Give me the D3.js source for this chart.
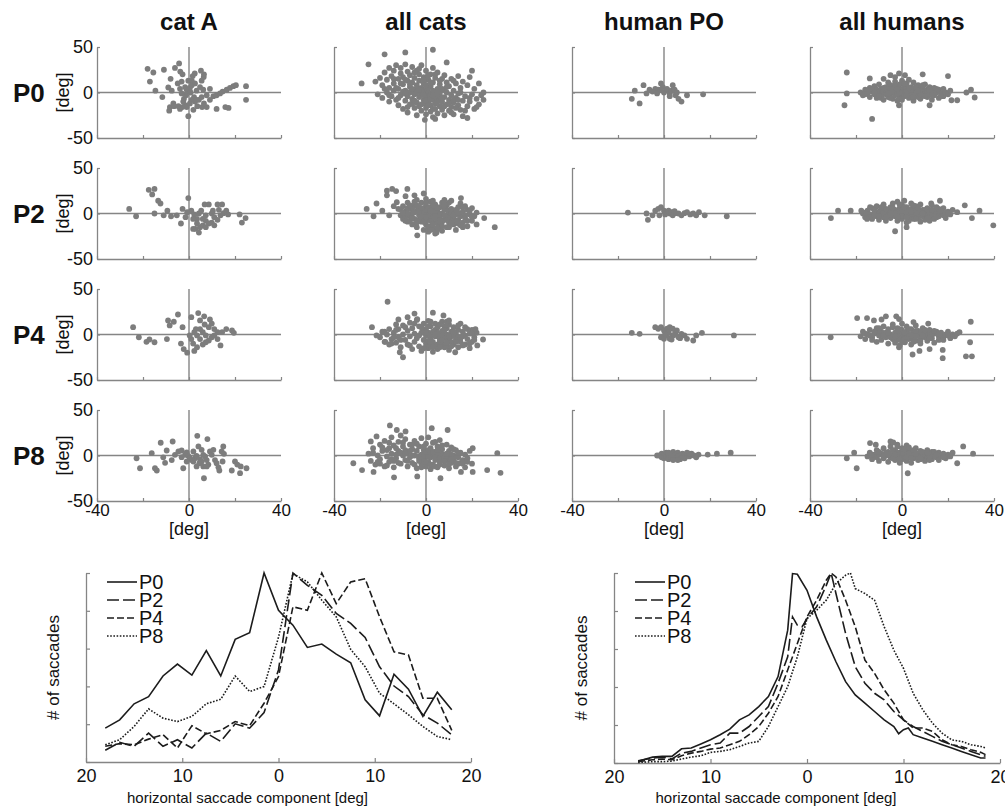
<!DOCTYPE html>
<html>
<head>
<meta charset="utf-8">
<script src="https://cdn.jsdelivr.net/npm/d3@7"></script>
<style>
  body { margin: 0; background: #fff; }
  svg { display: block; }
  text { font-family: "Liberation Sans", Arial, Helvetica, sans-serif; fill: #111; }
</style>
</head>
<body>
<svg id="fig" width="1005" height="809"></svg>
<script>
// ---------- labels ----------
const colTitles = ["cat A", "all cats", "human PO", "all humans"];
const rowLabels = ["P0", "P2", "P4", "P8"];
const scatterXTicks = [-40, -20, 0, 20, 40];
const scatterXLabels = [-40, 0, 40];
const scatterYTicks = [-50, 0, 50];
const lineXTicks = [-20, -10, 0, 10, 20];
const lineYTicks = [0, 0.2, 0.4, 0.6, 0.8, 1];
const seriesNames = ["P0", "P2", "P4", "P8"];

// ---------- scatter data [horizontal deg, vertical deg] ----------
const catA_P0 = [[-18,26],[-15.5,22],[-17,12],[-14.6,2],[-10.9,25],[-11.6,-5],[-9,5.5],[-8,15],[-7.5,2],[-6.1,27],[-4.3,32],[-3.8,23],[-2.8,20],[-3.2,12],[-4.9,10],[-3.9,4],[-6.8,-12],[-8.3,-16],[-8.6,-20],[-6.5,-15],[-4.6,-15],[-2.9,-16],[-1.7,-14],[-0.3,-26],[-2.2,-7],[-1.3,-3],[-1,3],[0.4,5],[1.2,13],[1.6,18],[-0.3,13],[0.7,0],[2.2,-5],[3.3,2],[4.8,6],[5.5,13],[6.4,17],[2.5,21],[6.5,20],[5.2,24],[4.3,-8],[3.6,-15],[5.7,-16],[7.7,-16],[6.5,-12],[9.1,4],[10.6,-4],[12,-3],[13.5,-1],[14.6,1],[16.4,3],[17.8,5],[19.3,7],[20.4,8],[24.8,7],[24.8,-8],[12,-18],[15.8,-16],[17.2,-17],[2.6,-10],[1.2,-8],[-2.5,-10],[-3.9,-18],[-1,-16],[1.9,-19],[0.4,-12],[3.3,-8],[1.2,8],[2.6,10],[-1.7,6],[-3.2,-1],[6.2,3],[7.7,-3],[9.1,-8],[5.5,-5]];

const allCats_P0 = [[-22,12],[-20,16],[-19,8],[-18,22],[-17,14],[-16,27],[-16,5],[-15,18],[-14,10],[-14,24],[-13,30],[-12,15],[-12,4],[-11,21],[-11,27],[-10,9],[-10,17],[-9,31],[-9,2],[-8,13],[-8,23],[-7,6],[-7,19],[-6,28],[-6,11],[-5,16],[-5,3],[-4,24],[-4,8],[-3,20],[-3,13],[-2,30],[-2,5],[-1,17],[-1,10],[0,24],[0,3],
  [1,14],[2,20],[2,7],[3,27],[3,11],[4,16],[5,4],[5,22],[6,9],[7,15],[8,19],[8,3],[9,11],[10,7],[11,15],[12,2],[13,10],[14,18],[15,5],[16,12],[18,8],[19,17],[21,4],[23,10],
  [-21,-2],[-19,-6],[-17,0],[-16,-10],[-15,-4],[-14,2],[-13,-8],[-12,-14],[-11,-3],[-10,-18],[-10,1],[-9,-9],[-8,-4],[-8,-22],[-7,-13],[-7,0],[-6,-7],[-5,-17],[-5,-2],[-4,-11],[-4,-25],[-3,-5],[-3,-15],[-2,-1],[-2,-20],[-1,-8],[-1,-12],[0,-3],[0,-17],[0,-24],[1,-6],[1,-10],[1,0],[2,-14],[2,-21],[2,-3],[3,-8],[3,-18],[3,-27],[4,-1],[4,-12],[5,-6],[5,-23],[6,-15],[6,-2],[7,-10],[7,-19],[8,-5],[8,-25],[9,-13],[9,0],[10,-8],[10,-20],[11,-3],[11,-16],[12,-11],[12,-24],[13,-6],[14,-14],[14,-1],[15,-19],[16,-9],[16,-26],[17,-4],[18,-15],[19,-10],[20,-2],[21,-18],[22,-7],[23,-13],[24,-3],[25,0],
  [-6,4],[-2,2],[1,5],[3,2],[4,-4],[6,1],[-9,-1],[12,-8],[15,0],[7,4],
  [-13,5],[-12,-6],[-11,10],[-9,14],[-8,-16],[-7,9],[-6,-12],[-5,22],[-5,-9],[-4,0],[-3,26],[-3,3],[-2,-13],[-1,14],[-1,-3],[0,8],[0,-9],[1,19],[1,-14],[2,11],[2,-7],[3,-3],[4,20],[4,-18],[5,0],[5,-10],[6,13],[7,-6],[8,-15],[9,6],[10,-12],[11,-22],[12,13],[13,-17],[14,-8],[-14,15],[-16,-3],[-18,4],[17,-20],[19,-6],
  [-18,42],[-9,44],[3,47],[9,33],[-25,31],[-28,10],[20,24],[-0.5,-30],[4,-29],[18,-28],[22,-16],[25,-8]];

const humanPO_P0 = [[-12.7,2],[-14,-7],[-10.6,-12],[-8.9,8],[-6.3,3],[-3.8,4],[-1.3,10],[-0.5,6],[1.3,3],[2.5,-1],[3.8,8],[5,-3],[6.3,-7],[7.6,-10],[10,-3],[17,-2],[-5,1],[-2.5,3],[0,0],[1.3,4],[-3,-1],[3.3,2],[4.6,3],[-7.6,-1],[-1.5,3],[5.6,0],[2.5,-4]];

const allHumans_P0 = [[-18,0],[-17,-3],[-16,3],[-15,-1],[-14,5],[-14,-5],[-13,1],[-12,-2],[-12,7],[-11,3],[-11,-6],[-10,0],[-10,9],[-9,-3],[-9,4],[-8,1],[-8,-8],[-7,6],[-7,-2],[-6,2],[-6,11],[-6,-5],[-5,-1],[-5,8],[-4,4],[-4,-7],[-3,0],[-3,12],[-3,-3],[-2,6],[-2,-9],[-2,2],[-1,-1],[-1,9],[-1,-5],[0,3],[0,-2],[0,13],[0,-8],[1,1],[1,7],[1,-4],[2,-1],[2,10],[2,4],[3,-6],[3,2],[3,14],[4,-2],[4,6],[5,0],[5,-9],[5,11],[6,3],[6,-4],[7,-1],[7,8],[8,1],[8,-7],[9,5],[9,-3],[10,0],[10,9],[11,-5],[11,3],[12,-1],[12,6],[13,-8],[13,2],[14,-3],[14,5],[15,0],[16,-6],[16,3],[17,-1],[18,-4],[18,4],[19,0],[20,-2],[21,2],[-15,2],[-9,-6],[-4,1],[-1,3],[1,-2],[3,-1],[4,1],[6,-1],[8,3],[0,0],[2,1],[-2,-1],[-7,3],[11,0],[-5,4],[7,-5],
  [-16,-2],[-13,4],[-10,-4],[-8,5],[-5,-6],[-3,8],[-1,0],[1,10],[2,-3],[4,3],[5,-5],[6,6],[8,-2],[9,8],[10,-4],[12,3],[13,-3],[15,4],[17,-4],[-12,0],[-6,-1],[3,5],[7,2],[-2,4],
  [-24,22],[-24,-1],[-25,-14],[-13,-29],[9,20],[20,18],[30,3],[31.6,-5.5],[24,-8.5],[21.5,-8.5],[28,0],[-14,15.5],[-5,19],[1.3,19],[-1.3,21],[12,-14],[-1.3,-14],[-8,15],[-3,17]];

const catA_P2 = [[-26,5],[-23,-3],[-17.5,26],[-15,27],[-16,21],[-13.4,14],[-12.4,11],[-9.4,3],[-15,0],[-11,-2],[-7.8,-3],[-5.3,-2],[-3.5,-11],[-2.8,5],[-1.5,-4],[-0.3,17],[1,3],[2.3,-1],[3.5,-6],[2.8,-17],[4.3,-21],[4.8,-15],[6,-13],[7.3,-8],[6.8,10],[8.6,10],[12.4,10],[14.4,10],[9.9,0],[11,-4],[12.4,-7],[13.7,-2],[15,0.4],[16.2,3],[17,-1],[22,-1],[23,-10],[24.6,-5],[8.6,-11],[9.9,-10],[6,-6],[4.3,0],[1.8,-6],[-0.8,1.5],[7.3,-2],[10.4,3],[13,4],[5.3,3],[3.5,-11],[1.8,-17],[7.3,-15],[11,-13]];

const allCats_P2 = [[-12,5],[-11,-2],[-10,8],[-10,-6],[-9,2],[-8,-9],[-8,12],[-7,-3],[-7,5],[-6,-12],[-6,0],[-5,9],[-5,-6],[-4,3],[-4,15],[-4,-15],[-3,-2],[-3,7],[-2,-9],[-2,12],[-2,1],[-1,-5],[-1,5],[-1,-18],[0,-1],[0,9],[0,-12],[0,16],[1,3],[1,-7],[1,-20],[2,-3],[2,7],[2,-14],[2,13],[3,0],[3,-10],[3,5],[4,-5],[4,-17],[4,10],[5,-1],[5,-8],[5,3],[6,-13],[6,7],[6,-4],[7,0],[7,-19],[7,12],[8,-7],[8,4],[9,-2],[9,-15],[9,9],[10,-10],[10,1],[11,-5],[11,14],[12,-12],[12,3],[13,-1],[13,-18],[14,7],[14,-7],[15,-3],[15,11],[16,-10],[16,2],[17,-5],[18,4],[18,-14],[19,-1],[20,6],[20,-8],[21,-3],[22,1],[-11,4],[-9,-4],[-6,6],[-3,-7],[-1,1],[1,-2],[3,-4],[4,2],[6,-1],[8,-2],[10,-4],[11,0],[-5,1],[0,4],[2,-8],[5,-11],[7,-9],[12,-6],[3,9],[-2,-4],[13,4],[9,4],[1,6],[-7,-8],[16,-15],[6,-17],[4,-22],[-4,9],[8,8],[14,-11],[-8,0],[10,12],[17,8],
  [-10,1],[-8,6],[-6,-5],[-5,13],[-4,-10],[-3,2],[-2,6],[-1,-9],[0,-4],[0,12],[1,-15],[2,3],[3,-12],[3,14],[4,-3],[5,6],[6,-9],[7,-14],[8,11],[9,-7],[10,-15],[11,5],[12,-2],[13,-9],[14,1],[15,-13],[16,7],[17,-2],[18,-8],[19,3],[-7,9],[-9,-8],[2,-18],[5,-16],[11,-11],[20,-4],
  [-25.8,5],[-22.8,-3],[-17,25],[-14.7,27],[-13,24.6],[-17,20],[-8.1,27],[-8.9,19],[-12.7,12.5],[-21.5,11],[-19,3],[15.2,17],[29.9,-15],[-3.8,-24],[4.6,-21],[25.3,-5],[-16,-2],[-14,8],[-5,20],[-1,22],[8,15],[22,-12]];

const humanPO_P2 = [[-15.7,1],[-7,-7],[-7.6,0],[-3.8,3],[-2.5,5],[-1.3,7],[0,3],[1.3,1.5],[2.5,0],[3.8,-2],[5,0.4],[6.3,0],[7.6,-2],[8.9,0.4],[11.4,-1],[14,-2],[15.2,1.5],[17.7,-2],[27.3,-3],[-5,-2],[-2,-2],[0.5,-1],[2,3],[3.3,1.5],[4.6,2.6],[10,1.5],[12.7,0]];

const allHumans_P2 = [[-17,0],[-16,-4],[-15,3],[-14,-1],[-13,6],[-13,-6],[-12,1],[-11,-3],[-11,8],[-10,2],[-10,-7],[-9,-1],[-9,5],[-8,-4],[-8,10],[-7,1],[-7,-8],[-6,4],[-6,-2],[-5,7],[-5,-5],[-4,0],[-4,11],[-3,-3],[-3,4],[-2,-8],[-2,1],[-2,13],[-1,-2],[-1,6],[0,0],[0,9],[0,-6],[1,3],[1,-3],[1,14],[2,-1],[2,7],[2,-10],[3,2],[3,-4],[4,5],[4,-1],[4,11],[5,-6],[5,1],[6,-2],[6,8],[7,3],[7,-5],[8,0],[8,10],[9,-3],[9,4],[10,-7],[10,1],[11,6],[11,-2],[12,2],[12,-5],[13,9],[13,-1],[14,3],[14,-6],[15,0],[16,5],[16,-3],[17,1],[18,-2],[18,6],[19,-5],[20,2],[21,-1],[22,4],[-15,-3],[-12,4],[-8,1],[-5,2],[-1,3],[1,0],[3,-1],[5,4],[7,0],[10,4],[-3,0],[0,-2],[2,2],[6,1],[-7,5],[12,-8],[3,-8],[-1,10],[8,-9],[15,7],
  [-16,1],[-14,-4],[-12,-2],[-9,7],[-7,-4],[-4,6],[-2,-4],[0,3],[1,7],[3,-6],[4,2],[6,-6],[7,6],[9,0],[11,-5],[13,4],[15,-4],[17,3],[19,1],[-10,-3],[2,-4],[5,9],[-5,-1],
  [-30.9,-5],[-27.8,3],[-22.3,3],[-17.7,3],[-13.9,7],[-15.2,-6],[-3,-19.5],[2,-15],[12.7,11],[16.5,14],[27.3,9],[30.4,-5],[33.7,3],[39.7,-13],[20,0],[24,1.5]];

const catA_P4 = [[-24.3,8],[-21.8,-3],[-18.5,-8],[-17.2,-5.5],[-15,-8.5],[-9.6,-5],[-9.1,15.5],[-8.4,10],[-6.6,14],[-4.8,22],[-2.8,8],[-3.5,-10],[-2.3,-16],[-0.8,-20],[1,19],[2.3,-18],[4,23.5],[4.8,15.5],[6.6,20],[9.1,16.5],[8.6,8],[9.9,12],[11,6],[12.4,2.6],[13.7,-12],[16.2,6],[18.7,4.4],[19.5,1.8],[2.3,2.6],[3.5,-1],[4.8,-5],[6,2.6],[7.3,-1],[8.6,-6.6],[9.9,-3],[11,-1],[1,-5],[1.8,-10],[3.5,-14],[6,-11],[7.3,-8.5],[0.3,-1],[12.4,-5],[14.4,2.6],[4.8,6],[6.8,11],[3,6]];

const allCats_P4 = [[-20,-3],[-19,3],[-18,-8],[-17,0],[-16,-11],[-15,-5],[-14,2],[-13,-9],[-12,-3],[-12,6],[-11,-14],[-10,0],[-10,10],[-9,-6],[-8,4],[-8,-11],[-7,13],[-7,-2],[-6,-16],[-6,7],[-5,1],[-5,-8],[-4,16],[-4,-4],[-3,9],[-3,-13],[-2,2],[-2,-18],[-1,-6],[-1,12],[0,-1],[0,6],[0,-10],[1,15],[1,-15],[1,2],[2,-4],[2,9],[3,0],[3,-8],[3,-19],[4,5],[4,-12],[4,12],[5,-2],[5,-16],[5,8],[6,1],[6,-6],[7,-10],[7,4],[7,14],[8,-3],[8,-14],[9,7],[9,0],[10,-7],[10,-17],[10,11],[11,-2],[11,3],[12,-11],[12,8],[13,-5],[13,1],[14,-14],[14,5],[15,-8],[15,12],[16,-2],[16,3],[17,-11],[17,8],[18,-5],[19,1],[19,-15],[20,-8],[20,5],[21,-3],[22,2],[2,0],[4,-2],[6,-3],[8,1],[3,3],[5,2],[7,-1],[9,-4],[1,-7],[6,-9],[11,-8],[2,-11],[-1,3],[12,-1],[14,-3],[9,-12],[0,-14],[8,9],[-2,8],
  [-18,3],[-15,-10],[-13,5],[-11,-6],[-9,8],[-7,-12],[-5,12],[-3,-1],[-1,-15],[0,2],[1,9],[2,-8],[3,-14],[4,0],[5,-11],[6,11],[7,-6],[8,5],[9,-9],[10,-2],[11,-13],[12,3],[13,-8],[14,10],[15,-4],[16,-12],[17,-1],[18,6],[19,-10],[20,1],[21,-6],[-16,6],[-14,-3],[2,14],[9,14],[6,-14],
  [-16.7,36],[-23.5,8],[-21.5,-1],[-17.7,-8],[-10,-25],[-11.4,-19.5],[-13,11],[-12,16.5],[-8,19],[-5,23],[-3.8,17],[3,24],[7.6,21],[10,15.5],[21.5,6],[24.8,-5.5],[22.3,-12],[12.7,-19.5]];

const humanPO_P4 = [[-14,1.8],[-10.6,0.7],[-3.8,8],[-2.5,6.3],[-1.3,8],[0,4.4],[1.3,6.3],[2.5,8],[3.8,6.3],[-1.3,-3],[0,-4.8],[1.3,-1],[2.5,-4.8],[3.8,-1],[5,2.6],[6.3,-3],[7.6,0.7],[8.9,-1],[10,-4.8],[12.7,-6.6],[14,-1],[16.5,1.8],[30.4,-1],[2,2.6],[4.6,-0.4],[5.6,4.4],[0.5,0.7],[7,-4],[3.3,-5.5]];

const allHumans_P4 = [[-18,-2],[-17,3],[-16,-5],[-15,0],[-14,5],[-13,-3],[-12,1],[-11,-8],[-11,7],[-10,-1],[-9,3],[-9,-6],[-8,9],[-7,-3],[-7,2],[-6,-10],[-6,6],[-5,0],[-4,-5],[-4,11],[-3,2],[-3,-9],[-2,-2],[-2,7],[-1,-12],[-1,1],[0,-4],[0,5],[0,12],[1,-1],[1,-8],[2,3],[2,9],[3,-5],[3,0],[4,-11],[4,6],[5,-2],[5,2],[6,-7],[6,10],[7,-1],[7,4],[8,-4],[8,-10],[9,1],[9,7],[10,-3],[11,2],[11,-7],[12,-1],[12,5],[13,-4],[14,1],[14,-9],[15,3],[16,-2],[16,-6],[17,2],[18,-3],[19,0],[20,3],[21,-4],[22,0],[23,-2],[24,1],[-14,-1],[-10,4],[-5,-3],[-1,4],[1,2],[3,-2],[5,-5],[8,2],[10,0],[-2,-6],[4,-1],[13,0],[6,-2],
  [-16,1],[-13,-6],[-10,7],[-8,-1],[-6,2],[-4,8],[-3,-2],[-1,6],[0,-8],[2,-4],[3,6],[5,-8],[6,4],[8,-7],[9,-1],[10,5],[12,-4],[14,4],[16,1],[18,-6],[20,-1],[-12,3],[1,-5],
  [-31,-3],[-19.5,18],[-15.2,18],[-12.2,15.5],[-8.9,16.5],[-7,20],[-2.5,20],[-1.3,17],[11.4,12],[5,13.6],[4.6,-22],[7.6,-18],[12,-16],[17.7,-17],[17.7,-26],[29.9,14],[29.6,-8.5],[27.8,-24],[30.4,-24],[25,2.6],[-1.3,-14],[1.3,-8.5]];

const catA_P8 = [[-22.8,-3],[-21.3,-14],[-16.2,2.6],[-14.8,-14],[-14,-16.5],[-12.3,14],[-11.2,-2],[-10.4,-8],[-9.7,5.5],[-7.1,15.4],[-7.5,-5],[-6.1,0.7],[-4.6,4.4],[-3.2,5.5],[-2.5,-14],[-1.7,0.7],[-1,3.3],[-0.3,-0.4],[0.4,-3],[1.2,-5],[1.9,-6.6],[2.6,-3],[3.3,-0.4],[3.6,21.6],[4.1,10],[4.5,-8.4],[4.8,-4],[5.5,6.2],[5.5,-6.6],[6.2,-12],[6.5,-25],[7,-1],[7.7,-5],[8,18],[8.4,-10],[9.1,4.4],[9.9,0.7],[10.6,6.2],[11.3,-5],[12,-8.4],[12.8,-13],[13.2,-16.5],[14.2,4.4],[14.9,10],[15.2,1.8],[14.6,-6.6],[18.6,-16.5],[20,-6.6],[21,-10],[22.2,-19.4],[22.5,-12],[25,-14],[1.9,4.4],[3.3,-12],[-1,-6.6],[6.2,0.7],[-3.2,-1.8],[7.7,-12]];

const allCats_P8 = [[-25,2],[-24,-6],[-23,8],[-22,-10],[-21,0],[-20,12],[-20,-4],[-19,5],[-18,-12],[-18,16],[-17,-1],[-16,8],[-16,-7],[-15,20],[-15,2],[-14,-13],[-14,11],[-13,-3],[-12,5],[-12,15],[-11,-9],[-11,22],[-10,0],[-10,10],[-9,-5],[-9,18],[-8,3],[-8,-12],[-7,12],[-7,-2],[-6,7],[-6,-8],[-5,16],[-5,0],[-4,-14],[-4,5],[-3,-3],[-3,10],[-2,1],[-2,-9],[-2,19],[-1,-5],[-1,6],[0,-1],[0,13],[0,-12],[1,3],[1,-7],[1,20],[2,-2],[2,8],[2,-15],[3,0],[3,-10],[3,14],[4,4],[4,-5],[5,-1],[5,10],[5,-13],[6,2],[6,-7],[6,17],[7,-3],[7,7],[8,-11],[8,1],[9,-5],[9,12],[10,-1],[10,-14],[10,5],[11,-8],[11,9],[12,0],[12,-4],[13,-12],[13,6],[14,-2],[15,3],[15,-8],[16,-5],[17,1],[17,-13],[18,-3],[19,5],[20,-9],[-20,-9],[-17,6],[-13,1],[-6,0],[-1,0],[1,-1],[3,2],[4,-2],[6,-3],[7,1],[8,-2],[2,4],[-3,-6],[0,4],[5,3],[11,1],[-9,6],[14,-9],[-14,-6],[-11,3],
  [-23,3],[-21,-7],[-19,9],[-17,-11],[-15,-4],[-13,8],[-12,-8],[-10,14],[-8,-6],[-7,5],[-5,-10],[-4,13],[-3,-1],[-1,10],[0,-7],[1,6],[2,-10],[3,4],[4,-12],[5,6],[6,-10],[7,11],[8,-6],[9,2],[10,-9],[11,-4],[12,7],[13,-8],[14,3],[16,-9],[18,-7],[-9,2],[-6,12],[-2,-13],[4,15],[-16,14],
  [-15.7,33],[-21.5,21],[-24,15.5],[-12.7,28],[-8.9,26.5],[2.5,30],[9.4,28],[-31.6,-8.5],[-27.8,-16],[-22.8,-18],[-13.9,-24],[-3.8,-23],[6.3,-25],[15.2,-18],[20.3,-18],[26.6,-16],[32.4,-19],[31,2.6],[20.3,8]];

const humanPO_P8 = [[-2,0],[-1,2],[-1,-2],[0,1],[0,-3],[1,3],[1,-1],[2,0],[2,-4],[3,2],[3,-2],[4,4],[4,0],[5,-3],[5,1],[6,3],[6,-1],[7,0],[7,-4],[8,2],[8,-2],[9,1],[9,-3],[10,0],[10,3],[11,-1],[12,2],[13,0],[14,-2],[15,1],[19,1],[23,2],[29,3],[4,-5],[2,3],[6,-5],[11,2],[-3,0]];

const allHumans_P8 = [[-15,-1],[-14,3],[-13,-4],[-12,1],[-11,6],[-11,-2],[-10,-6],[-9,2],[-8,8],[-8,-3],[-7,0],[-6,4],[-6,-7],[-5,-2],[-5,10],[-4,1],[-3,6],[-3,-5],[-2,-1],[-2,12],[-1,3],[-1,-8],[0,0],[0,8],[0,-4],[1,4],[1,-2],[2,11],[2,-6],[2,1],[3,-2],[3,6],[4,0],[4,-8],[5,3],[5,-3],[6,8],[6,-1],[7,2],[7,-5],[8,0],[8,5],[9,-3],[10,2],[10,-6],[11,6],[11,-1],[12,1],[13,-4],[13,4],[14,0],[15,-2],[16,3],[16,-5],[17,0],[18,2],[19,-3],[20,1],[21,-1],[22,3],[-10,1],[-4,-3],[1,1],[3,2],[5,0],[-1,-1],[9,1],[-7,3],[12,-2],[0,3],
  [-13,1],[-10,4],[-8,-1],[-6,1],[-4,6],[-2,3],[-1,-4],[1,7],[2,-2],[3,9],[4,-3],[5,6],[7,-2],[8,-4],[9,4],[11,3],[12,-5],[14,4],[15,1],[18,-2],[-3,1],[6,2],
  [-24,-3],[-19.7,-14],[-13.9,13.6],[-11.4,11.8],[-5,15.5],[-3.8,14.4],[-2,10],[2.5,-19.5],[26.6,10],[30.9,2],[24,-8.5],[-20.8,3]];

const scatterGrid = [
  [catA_P0, allCats_P0, humanPO_P0, allHumans_P0],
  [catA_P2, allCats_P2, humanPO_P2, allHumans_P2],
  [catA_P4, allCats_P4, humanPO_P4, allHumans_P4],
  [catA_P8, allCats_P8, humanPO_P8, allHumans_P8]
];

// ---------- histogram data (normalised counts) ----------
const catBins = [-18,-16.5,-15,-13.5,-12,-10.5,-9,-7.5,-6,-4.5,-3,-1.5,0,1.5,3,4.5,6,7.5,9,10.5,12,13.5,15,16.5,18];
const catP0 = [0.179,0.223,0.308,0.346,0.455,0.518,0.46,0.589,0.455,0.649,0.684,1.0,0.803,0.724,0.606,0.624,0.571,0.525,0.329,0.244,0.464,0.385,0.241,0.369,0.276];
const catP2 = [0.062,0.104,0.083,0.153,0.083,0.118,0.074,0.153,0.109,0.202,0.179,0.262,0.487,1.0,0.935,0.882,0.786,0.733,0.659,0.504,0.402,0.346,0.25,0.206,0.144];
const catP4 = [0.083,0.097,0.091,0.121,0.144,0.074,0.192,0.149,0.167,0.214,0.192,0.311,0.452,0.821,0.803,1.0,0.838,0.953,0.97,0.768,0.583,0.566,0.337,0.337,0.167];
const catP8 = [0.091,0.118,0.188,0.281,0.232,0.214,0.241,0.308,0.332,0.455,0.373,0.399,0.66,0.996,0.953,0.856,0.768,0.596,0.504,0.364,0.308,0.25,0.188,0.135,0.118];

const humanP0 = [[-17.5,.009],[-16,.031],[-15,.035],[-14,.035],[-13,.075],[-12,.079],[-11,.1],[-10,.122],[-9,.149],[-8,.178],[-7,.227],[-6,.253],[-5,.297],[-4,.35],[-3,.455],[-2,.699],[-1.5,.997],[-1,.993],[0,.909],[1,.769],[2,.647],[3,.533],[4,.428],[5,.358],[6,.315],[7,.271],[8,.227],[9,.192],[9.5,.154],[10,.175],[10.5,.184],[11,.149],[12,.131],[13,.114],[14,.096],[15,.079],[16,.061],[17,.044],[18,.026],[18.5,.026]];
const humanP2 = [[-17.5,.012],[-16,.026],[-15,.031],[-14,.021],[-13,.052],[-12,.061],[-11,.079],[-10,.096],[-9,.105],[-8,.157],[-7,.157],[-6,.192],[-5,.245],[-4,.297],[-3,.42],[-2,.559],[-1.5,.769],[-1,.726],[-0.5,.717],[0,.76],[1,.822],[2,.935],[2.5,1.0],[3,.892],[4,.682],[5,.507],[6,.42],[7,.367],[8,.332],[9,.271],[10,.227],[11,.192],[12,.166],[13,.14],[14,.114],[15,.096],[16,.079],[17,.061],[18,.044],[18.5,.035]];
const humanP4 = [[-17.5,.007],[-16,.017],[-15,.021],[-14,.017],[-13,.038],[-12,.052],[-11,.061],[-10,.073],[-9,.079],[-8,.096],[-7,.114],[-6,.149],[-5,.192],[-4,.262],[-3,.35],[-2,.49],[-1,.629],[0,.769],[1,.857],[2,.962],[2.5,1.0],[3,.979],[4,.857],[5,.717],[6,.542],[7,.472],[8,.385],[9,.315],[10,.227],[11,.184],[12,.184],[13,.166],[14,.122],[15,.096],[16,.087],[17,.07],[18,.056],[18.5,.044]];
const humanP8 = [[-17.5,.003],[-16,.007],[-15,.007],[-14,.01],[-13,.021],[-12,.031],[-11,.038],[-10,.056],[-9,.061],[-8,.07],[-7,.087],[-6,.105],[-5,.114],[-4,.192],[-3,.297],[-2,.402],[-1,.559],[0,.76],[1,.804],[2,.857],[3,.944],[4,.988],[4.5,1.0],[5,.918],[6,.892],[7,.857],[8,.717],[9,.594],[10,.498],[11,.367],[12,.28],[13,.21],[14,.157],[15,.122],[16,.114],[17,.096],[18,.087],[18.5,.079]];

// ---------- layout ----------
const svg = d3.select("#fig");
const axisColor = "#858585";
const dotColor = "#7d7d7d";
const colLeft = [97, 334, 572, 810];
const rowTop = [47, 168, 289, 410];
const panelW = 184, panelH = 91;

function styleAxis(g, size) {
  g.select(".domain").attr("stroke", axisColor).attr("stroke-width", 1.3);
  g.selectAll(".tick line").attr("stroke", axisColor).attr("stroke-width", 1.2);
  g.selectAll(".tick text").attr("fill", "#111").style("font-size", size + "px")
    .style("font-family", "'Liberation Sans', Arial, sans-serif");
}

// column titles
colTitles.forEach((t, c) => {
  svg.append("text")
    .attr("x", colLeft[c] + panelW / 2)
    .attr("y", 30)
    .attr("text-anchor", "middle")
    .style("font-size", "24px")
    .style("font-weight", "bold")
    .text(t);
});

// scatter panels
scatterGrid.forEach((row, r) => {
  // row label
  svg.append("text")
    .attr("x", 13)
    .attr("y", rowTop[r] + panelH / 2 + 9)
    .style("font-size", "26px")
    .style("font-weight", "bold")
    .text(rowLabels[r]);

  row.forEach((pts, c) => {
    const g = svg.append("g").attr("transform", `translate(${colLeft[c]},${rowTop[r]})`);
    const x = d3.scaleLinear().domain([-40, 40]).range([0, panelW]);
    const y = d3.scaleLinear().domain([-50, 50]).range([panelH, 0]);

    // zero lines
    g.append("line")
      .attr("x1", x(-40)).attr("x2", x(40))
      .attr("y1", y(0)).attr("y2", y(0))
      .attr("stroke", axisColor).attr("stroke-width", 1.4);
    g.append("line")
      .attr("x1", x(0)).attr("x2", x(0))
      .attr("y1", y(-50)).attr("y2", y(50))
      .attr("stroke", axisColor).attr("stroke-width", 1.4);

    g.selectAll("circle")
      .data(pts)
      .join("circle")
      .attr("cx", d => x(d[0]))
      .attr("cy", d => y(d[1]))
      .attr("r", 2.9)
      .attr("fill", dotColor);

    const xAxis = g.append("g")
      .attr("transform", `translate(0,${panelH})`)
      .call(d3.axisBottom(x)
        .tickValues(scatterXTicks)
        .tickSizeInner(-3).tickSizeOuter(0).tickPadding(3)
        .tickFormat(d => (r === 3 && scatterXLabels.includes(d)) ? d : ""));
    styleAxis(xAxis, 17);

    const yAxis = g.append("g")
      .call(d3.axisLeft(y)
        .tickValues(scatterYTicks)
        .tickSizeInner(-3).tickSizeOuter(0).tickPadding(4)
        .tickFormat(d => c === 0 ? d : ""));
    styleAxis(yAxis, 18);

    if (c === 0) {
      g.append("text")
        .attr("transform", `translate(-34,${panelH / 2}) rotate(-90)`)
        .attr("text-anchor", "middle")
        .attr("dy", "0.35em")
        .style("font-size", "18px")
        .text("[deg]");
    }
    if (r === 3) {
      g.append("text")
        .attr("x", panelW / 2)
        .attr("y", panelH + 34)
        .attr("text-anchor", "middle")
        .style("font-size", "18px")
        .text("[deg]");
    }
  });
});

// ---------- histogram panels ----------
const dashes = [null, "12,4", "7,3", "1.6,1.6"];

function lineChart(left, right, top, bottom, series) {
  const x = d3.scaleLinear().domain([-20, 20]).range([left, right]);
  const y = d3.scaleLinear().domain([0, 1]).range([bottom, top]);
  const g = svg.append("g");

  const xAxis = g.append("g")
    .attr("transform", `translate(0,${bottom})`)
    .call(d3.axisBottom(x)
      .tickValues(lineXTicks)
      .tickSizeInner(-4).tickSizeOuter(0).tickPadding(7)
      .tickFormat(d => Math.abs(d)));
  styleAxis(xAxis, 18);

  const yAxis = g.append("g")
    .attr("transform", `translate(${left},0)`)
    .call(d3.axisLeft(y)
      .tickValues(lineYTicks)
      .tickSizeInner(-4).tickSizeOuter(0)
      .tickFormat(""));
  styleAxis(yAxis, 18);

  const line = d3.line().x(d => x(d[0])).y(d => y(d[1]));
  series.forEach((s, i) => {
    g.append("path")
      .datum(s)
      .attr("d", line)
      .attr("fill", "none")
      .attr("stroke", "#1c1c1c")
      .attr("stroke-width", 1.6)
      .attr("stroke-dasharray", dashes[i]);
  });

  // legend
  seriesNames.forEach((n, i) => {
    const ly = top + 9 + i * 18;
    g.append("line")
      .attr("x1", left + 21).attr("x2", left + 51)
      .attr("y1", ly).attr("y2", ly)
      .attr("stroke", "#1c1c1c").attr("stroke-width", 1.6)
      .attr("stroke-dasharray", dashes[i]);
    g.append("text")
      .attr("x", left + 53)
      .attr("y", ly + 7)
      .style("font-size", "20px")
      .text(n);
  });

  g.append("text")
    .attr("transform", `translate(${left - 33},${(top + bottom) / 2}) rotate(-90)`)
    .attr("text-anchor", "middle")
    .attr("dy", "0.35em")
    .style("font-size", "17px")
    .text("# of saccades");

  g.append("text")
    .attr("x", x(0) - 31)
    .attr("y", 803)
    .attr("text-anchor", "middle")
    .style("font-size", "15px")
    .text("horizontal saccade component [deg]");
}

lineChart(86, 471, 573, 762, [
  catBins.map((b, i) => [b, catP0[i]]),
  catBins.map((b, i) => [b, catP2[i]]),
  catBins.map((b, i) => [b, catP4[i]]),
  catBins.map((b, i) => [b, catP8[i]])
]);
lineChart(614, 1000, 573, 763, [humanP0, humanP2, humanP4, humanP8]);
</script>
</body>
</html>
